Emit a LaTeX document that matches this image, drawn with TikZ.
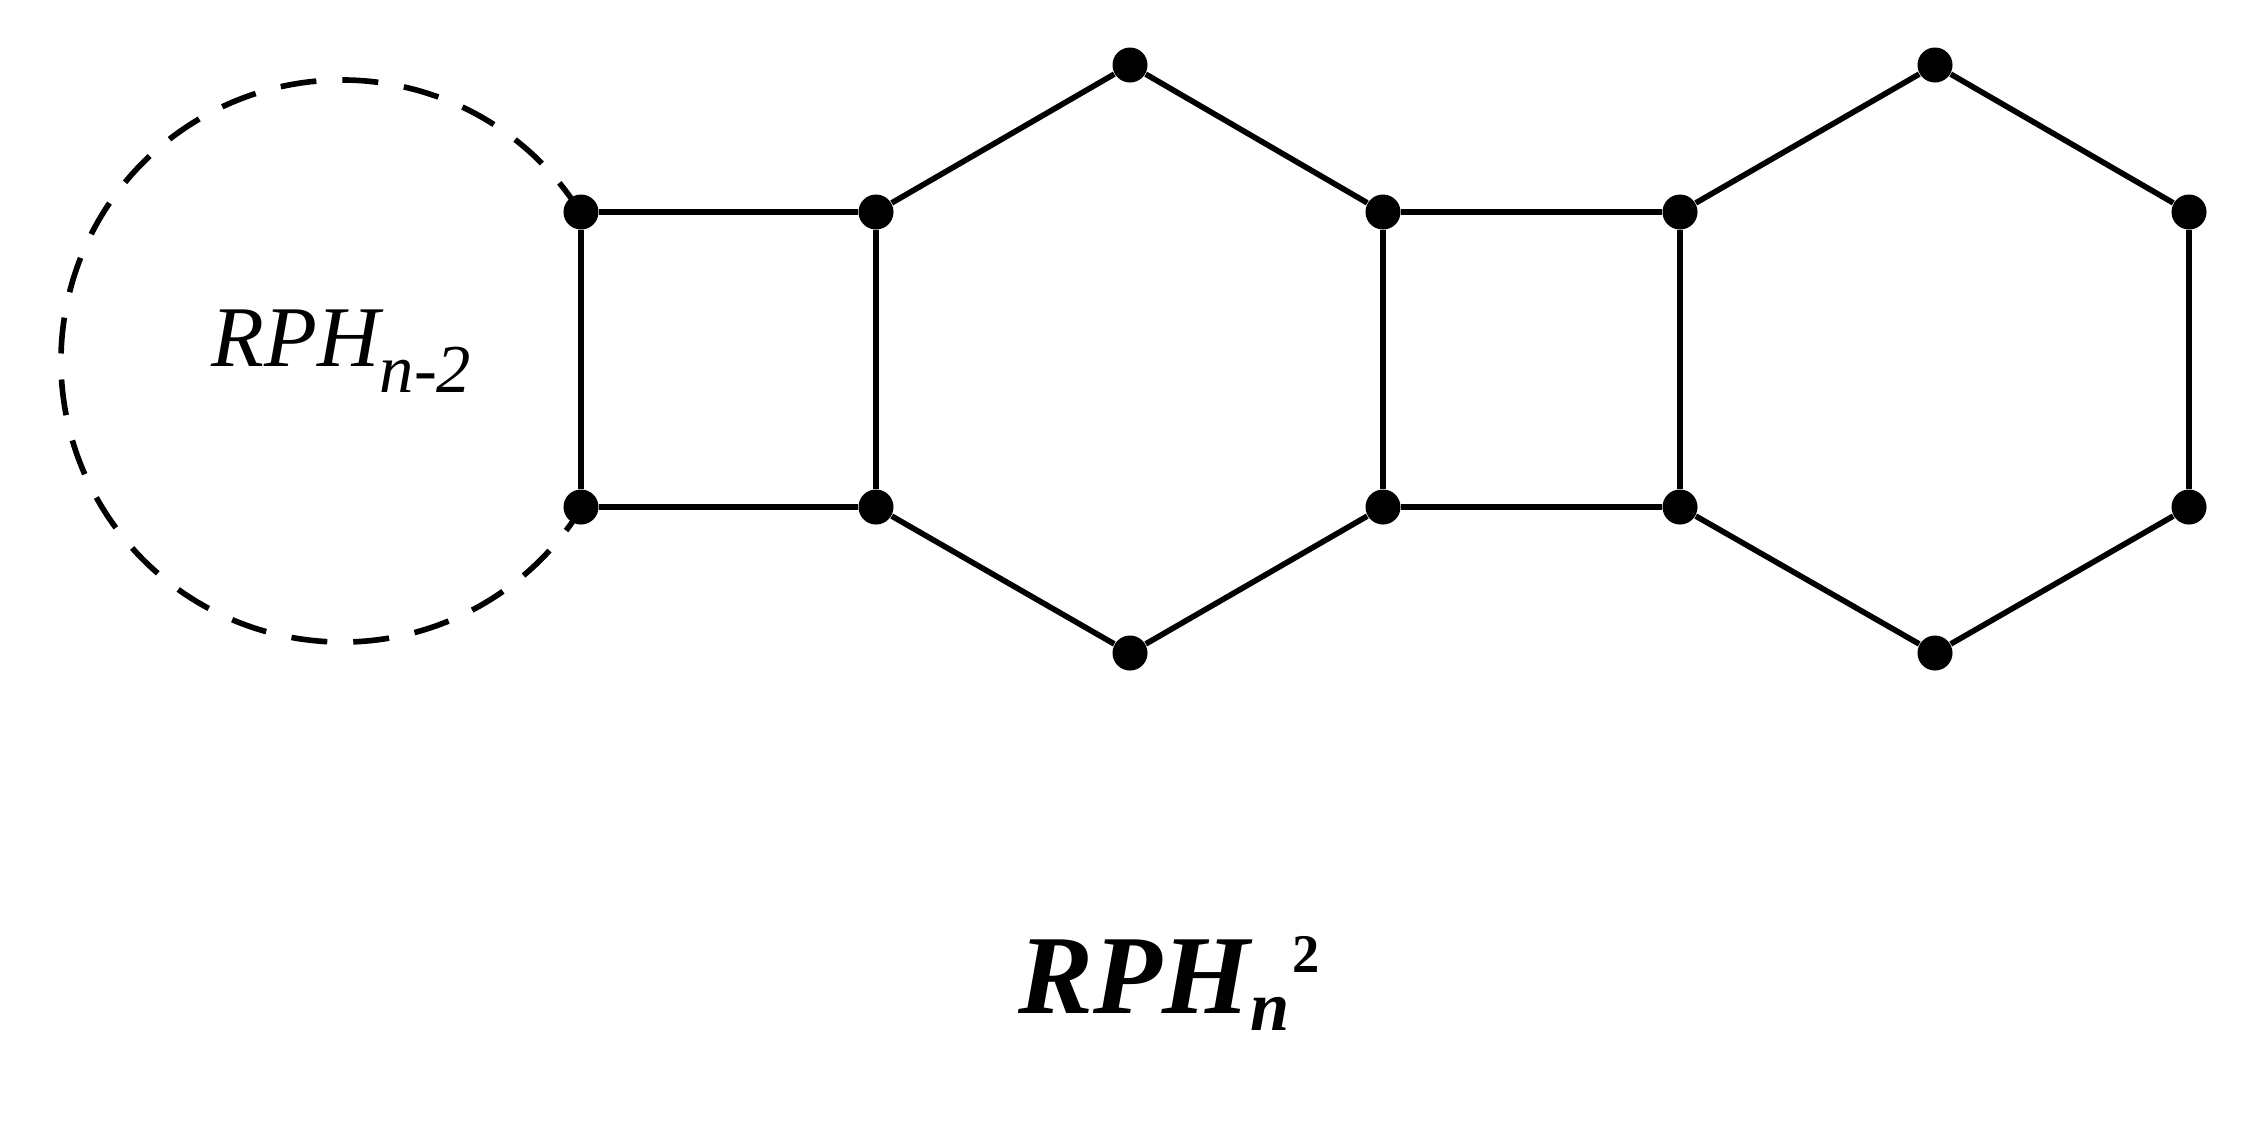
\documentclass[tikz,border=0pt]{standalone}
\usepackage{fontspec}
\setmainfont{Liberation Serif}
\begin{document}
\begin{tikzpicture}[x=0.01cm,y=-0.01cm,
  vtx/.style={circle,fill=black,inner sep=0pt,minimum size=0.35cm},
  edge/.style={line width=1.6pt},
  ring/.style={line width=1.6pt,dash pattern=on 0.36cm off 0.26cm}]
\useasboundingbox (0,0) rectangle (2251,1132);
% dashed sub-structure
\draw[ring] (342,361) ++(328:281) arc[start angle=-32,end angle=-328,radius=281];
\node[anchor=base west,inner sep=0pt] (lbl) at (211,366)
  {\fontsize{24.6pt}{28pt}\selectfont\itshape RPH\raisebox{-7.6pt}{\fontsize{19.5pt}{22pt}\selectfont n-2}};
% vertices
\node[vtx] (a1) at (581,212) {};
\node[vtx] (a2) at (581,507) {};
\node[vtx] (b1) at (876,212) {};
\node[vtx] (b2) at (876,507) {};
\node[vtx] (c1) at (1130,65) {};
\node[vtx] (c2) at (1130,653) {};
\node[vtx] (d1) at (1383,212) {};
\node[vtx] (d2) at (1383,507) {};
\node[vtx] (e1) at (1680,212) {};
\node[vtx] (e2) at (1680,507) {};
\node[vtx] (f1) at (1935,65) {};
\node[vtx] (f2) at (1935,653) {};
\node[vtx] (g1) at (2189,212) {};
\node[vtx] (g2) at (2189,507) {};
% edges
\draw[edge] (a1) -- (b1) -- (b2) -- (a2) -- (a1);
\draw[edge] (b1) -- (c1) -- (d1) -- (d2) -- (c2) -- (b2);
\draw[edge] (d1) -- (e1) -- (e2) -- (d2);
\draw[edge] (e1) -- (f1) -- (g1) -- (g2) -- (f2) -- (e2);
% title
\node[anchor=base west,inner sep=0pt] (title) at (1018,1013)
  {\fontsize{32pt}{36pt}\selectfont\bfseries\itshape RPH\raisebox{-5pt}{\fontsize{20pt}{22pt}\selectfont n}\raisebox{11.5pt}{\fontsize{15.5pt}{17pt}\selectfont\upshape\kern1pt 2}};
\end{tikzpicture}
\end{document}
